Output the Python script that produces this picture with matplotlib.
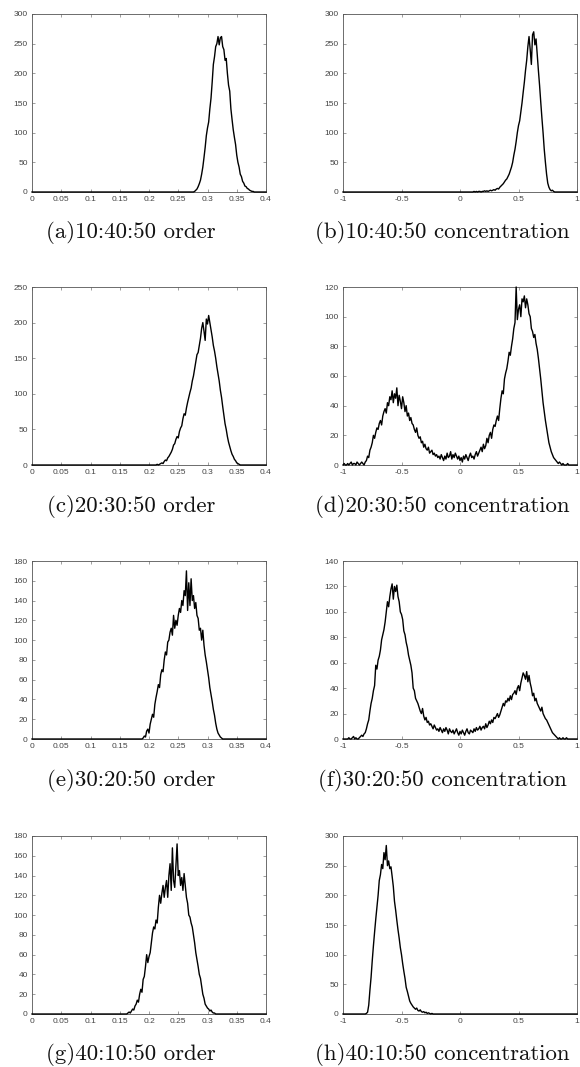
import numpy as np
import matplotlib
matplotlib.use("Agg")
import matplotlib.pyplot as plt

# ---------------- data ----------------
# order panels: x axis 0..0.4, bin step 0.002
order_ticks = [0, 0.05, 0.1, 0.15, 0.2, 0.25, 0.3, 0.35, 0.4]
order_ticklabels = ["0", "0.05", "0.1", "0.15", "0.2", "0.25", "0.3", "0.35", "0.4"]
conc_ticks = [-1, -0.5, 0, 0.5, 1]
conc_ticklabels = ["-1", "-0.5", "0", "0.5", "1"]

a_start = 0.276
a_vals = [0, 1, 3, 5, 9, 14, 20, 30, 42, 58, 75, 95, 108, 118, 140, 158, 185, 215,
          228, 245, 250, 262, 248, 260, 262, 245, 240, 222, 225, 200, 180, 170, 140,
          122, 105, 92, 80, 62, 50, 42, 30, 26, 18, 15, 10, 9, 6, 5, 3, 2, 1, 1, 0]

c_start = 0.210
c_vals = [0, 0, 1, 0, 1, 2, 3, 2, 5, 7, 6, 10, 12, 15, 18, 22, 28, 30, 36, 40, 38, 47,
          52, 55, 65, 72, 70, 80, 88, 95, 102, 108, 118, 125, 135, 145, 155, 158, 168,
          178, 192, 200, 188, 175, 205, 198, 210, 200, 190, 180, 168, 160, 150, 138,
          128, 118, 105, 95, 82, 70, 58, 50, 40, 32, 26, 20, 15, 12, 8, 6, 3, 2, 1, 0,
          0, 0]

e_start = 0.186
e_vals = [0, 0, 1, 3, 2, 8, 10, 6, 15, 20, 25, 22, 35, 42, 48, 55, 52, 65, 70, 68, 80,
          88, 85, 98, 100, 108, 112, 105, 125, 112, 120, 115, 125, 132, 128, 140, 135,
          150, 145, 170, 130, 158, 135, 162, 140, 145, 132, 138, 125, 122, 110, 112,
          100, 110, 95, 85, 78, 70, 62, 52, 45, 38, 30, 24, 16, 10, 6, 4, 2, 1, 0, 0, 0]

g_start = 0.160
g_vals = [0, 0, 1, 2, 1, 3, 5, 4, 8, 10, 14, 12, 20, 25, 22, 35, 38, 48, 60, 52, 58,
          62, 72, 82, 88, 86, 95, 92, 108, 120, 112, 122, 130, 118, 128, 135, 118, 140,
          152, 125, 168, 135, 128, 150, 172, 140, 145, 130, 138, 125, 142, 130, 118,
          112, 100, 98, 92, 88, 80, 72, 62, 55, 48, 40, 36, 28, 20, 16, 10, 8, 6, 5, 3,
          4, 2, 1, 1, 0, 0]

# concentration panels: x axis -1..1, bin step 0.01
b_start = 0.10
b_vals = [0, 0, 1, 0, 1, 0, 1, 1, 0, 1, 1, 2, 1, 2, 1, 2, 3, 2, 3, 4, 3, 5, 6, 5, 8,
          10, 12, 14, 17, 20, 22, 26, 30, 36, 42, 50, 62, 72, 85, 100, 112, 120, 135,
          150, 168, 185, 205, 222, 245, 262, 240, 215, 265, 270, 248, 258, 232, 205,
          180, 152, 125, 100, 72, 50, 30, 15, 8, 4, 2, 3, 1, 0, 0]

d_start = -1.00
d_vals = [0, 1, 0, 0, 1, 0, 1, 2, 0, 1, 1, 0, 2, 1, 0, 1, 2, 1, 0, 2,
          3, 6, 5, 10, 12, 15, 20, 18, 22, 25, 24, 28, 30, 27, 33, 36, 38, 35, 42, 40,
          46, 44, 50, 42, 48, 45, 52, 40, 47, 43, 38, 46, 42, 36, 40, 33, 35, 30, 32, 28,
          27, 24, 22, 25, 20, 18, 19, 15, 16, 12, 14, 11, 10, 12, 8, 9, 10, 7, 8, 6,
          7, 5, 6, 4, 7, 5, 3, 6, 4, 8, 5, 6, 9, 4, 7, 5, 8, 6, 4, 6,
          3, 5, 2, 6, 4, 7, 5, 3, 6, 8, 5, 6, 4, 7, 9, 6, 8, 10, 12, 9,
          14, 11, 13, 18, 15, 20, 22, 18, 24, 27, 26, 30, 33, 30, 38, 45, 50, 48, 58, 62,
          65, 70, 76, 74, 80, 85, 92, 96, 120, 98, 105, 108, 100, 112, 110, 114, 106, 112, 108, 102,
          100, 92, 90, 86, 88, 82, 78, 72, 65, 58, 50, 42, 36, 30, 25, 20, 15, 12, 9, 7,
          5, 4, 3, 2, 1, 2, 1, 0, 1, 0, 0, 0, 1, 0, 0, 0, 0, 0, 0, 0,
          0]

f_start = -1.00
f_vals = [0, 0, 0, 0, 0, 1, 0, 0, 1, 2, 0, 1, 0, 0, 1, 2, 3, 2, 4, 5,
          8, 12, 15, 22, 28, 32, 38, 42, 58, 55, 62, 65, 70, 78, 82, 86, 92, 100, 108, 104,
          112, 118, 122, 110, 120, 116, 121, 112, 108, 100, 98, 94, 85, 82, 76, 72, 66, 62, 58, 52,
          40, 38, 32, 30, 28, 25, 22, 20, 24, 18, 15, 17, 13, 14, 11, 12, 10, 8, 11, 9,
          7, 8, 6, 9, 7, 5, 8, 6, 9, 7, 4, 8, 6, 5, 7, 4, 6, 8, 5, 3,
          6, 4, 7, 5, 3, 6, 8, 5, 4, 7, 6, 5, 8, 6, 9, 7, 8, 10, 7, 9,
          10, 8, 12, 9, 11, 14, 12, 15, 13, 17, 16, 18, 20, 17, 19, 22, 25, 28, 26, 30,
          29, 32, 30, 34, 31, 35, 36, 38, 35, 40, 42, 38, 44, 48, 52, 50, 47, 53, 45, 50,
          44, 40, 34, 36, 30, 32, 28, 26, 24, 22, 25, 20, 18, 16, 15, 13, 11, 9, 7, 5,
          4, 3, 2, 1, 0, 1, 0, 0, 1, 0, 0, 1, 0, 0, 0, 0, 0, 0, 0, 0,
          0]

h_start = -0.82
h_vals = [0, 0, 1, 3, 15, 40, 62, 90, 115, 138, 160, 180, 200, 225, 235, 252, 245, 272,
          260, 284, 250, 258, 245, 248, 232, 215, 190, 175, 158, 142, 128, 112, 100, 85,
          72, 60, 45, 38, 30, 22, 18, 15, 12, 10, 8, 10, 6, 5, 7, 4, 3, 4, 2, 3, 1, 2, 1,
          0, 1, 0, 0, 0, 0]

captions = ["(a)10:40:50 order", "(b)10:40:50 concentration",
            "(c)20:30:50 order", "(d)20:30:50 concentration",
            "(e)30:20:50 order", "(f)30:20:50 concentration",
            "(g)40:10:50 order", "(h)40:10:50 concentration"]

panels = [
    (a_start, 0.002, a_vals, "order", 300, 50),
    (b_start, 0.01, b_vals, "conc", 300, 50),
    (c_start, 0.002, c_vals, "order", 250, 50),
    (d_start, 0.01, d_vals, "conc", 120, 20),
    (e_start, 0.002, e_vals, "order", 180, 20),
    (f_start, 0.01, f_vals, "conc", 140, 20),
    (g_start, 0.002, g_vals, "order", 180, 20),
    (h_start, 0.01, h_vals, "conc", 300, 50),
]

# ---------------- figure ----------------
W, H = 580, 1067
fig = plt.figure(figsize=(W / 100, H / 100), dpi=100)

col_left = [32, 343]
ax_w = 234
ax_h = 178
row_bottom = [192, 465, 739, 1014]
cap_cx = [131, 442]

tick_color = "#444444"
spine_color = "#555555"

for i, (start, step, vals, kind, ymax, ystep) in enumerate(panels):
    r, c = divmod(i, 2)
    left = col_left[c] / W
    bottom = 1 - row_bottom[r] / H
    ax = fig.add_axes([left, bottom, ax_w / W, ax_h / H])
    vals = np.asarray(vals, dtype=float)
    x = start + step * np.arange(len(vals))
    if kind == "order":
        lo, hi = 0.0, 0.4
        ticks, labels = order_ticks, order_ticklabels
    else:
        lo, hi = -1.0, 1.0
        ticks, labels = conc_ticks, conc_ticklabels
    # zero-count regions outside the populated bins
    xs = np.concatenate([[lo], x, [hi]])
    ys = np.concatenate([[0.0], vals, [0.0]])
    ax.plot(xs, ys, color="black", lw=1.0, clip_on=False, zorder=3)
    ax.set_xlim(lo, hi)
    ax.set_ylim(0, ymax)
    ax.set_xticks(ticks)
    ax.set_xticklabels(labels)
    yt = list(range(0, ymax + 1, ystep))
    ax.set_yticks(yt)
    ax.set_yticklabels([str(v) for v in yt])
    ax.tick_params(direction="in", length=2.5, width=0.5, top=True, right=True,
                   labelsize=6, labelcolor=tick_color, color="#777777", pad=3)
    for lab in ax.get_xticklabels() + ax.get_yticklabels():
        lab.set_fontfamily("Liberation Sans")
    for sp in ax.spines.values():
        sp.set_color(spine_color)
        sp.set_linewidth(0.6)
    cy = 1 - (row_bottom[r] + 41) / H
    fig.text(cap_cx[c] / W, cy, captions[i], ha="center", va="center",
             fontsize=16.5, family="cmr10", color="#111111")

fig.savefig("out.png", dpi=100)
